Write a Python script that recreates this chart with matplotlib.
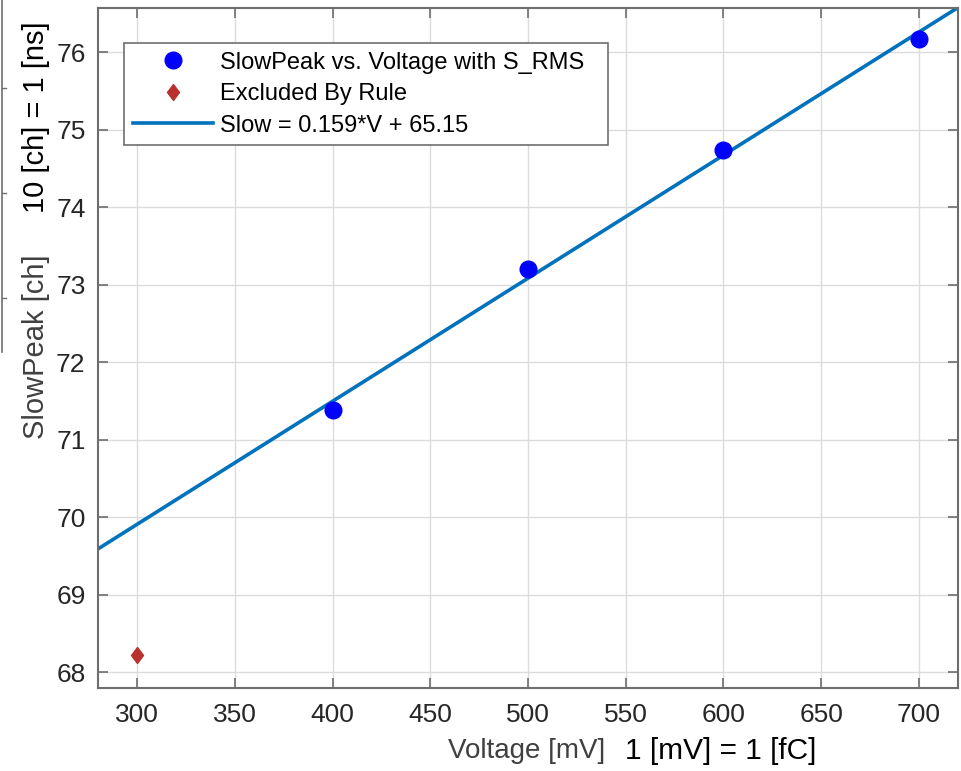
import matplotlib
matplotlib.use("Agg")
import matplotlib.pyplot as plt
from matplotlib.lines import Line2D
import numpy as np

plt.rcParams['font.family'] = ['Liberation Sans', 'DejaVu Sans']

voltage = [400, 500, 600, 700]
slow_peak = [71.39, 73.21, 74.74, 76.17]
excl_voltage = [300]
excl_peak = [68.22]
fit_slope = 0.01587
fit_intercept = 65.15
fit_label = "Slow = 0.159*V + 65.15"
xticks = list(range(300, 701, 50))
yticks = list(range(68, 77))

fig = plt.figure(figsize=(9.62, 7.71), dpi=100)
ax = fig.add_axes([98/962, (771-688)/771, (958-98)/962, (688-8)/771])

diamond = [(0, 1), (0.75, 0), (0, -1), (-0.75, 0), (0, 1)]

xl = (280, 720)
xs = np.array(xl)
ax.plot(voltage, slow_peak, 'o', color='#0000FF', markersize=12, label='SlowPeak vs. Voltage with S_RMS', zorder=3)
ax.plot(excl_voltage, excl_peak, marker=diamond, linestyle='none', color='#B8312F', markersize=11.5,
        label='Excluded By Rule', zorder=3)
ax.plot(xs, fit_slope*xs + fit_intercept, '-', color='#0072BD', linewidth=2.6, label=fit_label, zorder=2)

ax.set_xlim(*xl)
ax.set_ylim(67.8, 76.57)
ax.set_xticks(xticks)
ax.set_yticks(yticks)
ax.grid(True, color='#dcdcdc', linewidth=1)
ax.set_axisbelow(True)
for s in ax.spines.values():
    s.set_color('#6e6e6e')
    s.set_linewidth(1.5)
ax.tick_params(direction='in', length=7, width=1.2, colors='#6e6e6e', labelcolor='#262626',
               labelsize=19, top=True, right=True, pad=9)
ax.tick_params(axis='x', pad=11)

x0 = (124-98)/860
w = (608-124)/860
ytop = (688-43)/680
leg = ax.legend(loc='upper left', bbox_to_anchor=(x0, 0.5, w, ytop-0.5), mode='expand',
                fontsize=17, frameon=True, fancybox=False, edgecolor='#6e6e6e', framealpha=1,
                handlelength=3.4, borderpad=0.37, labelspacing=0.4, handletextpad=0.3, borderaxespad=0)
leg.get_frame().set_linewidth(1.2)

fig.text(448/962, 1-751/771, 'Voltage [mV]', fontsize=20, color='#404040', ha='left', va='center')
fig.text(625/962, 1-751/771, '1 [mV] = 1 [fC]', fontsize=21.5, color='black', ha='left', va='center')
fig.text(36/962, 1-347/771, 'SlowPeak [ch]', fontsize=21, color='#404040', rotation=90, ha='center', va='center')
fig.text(36/962, 1-117/771, '10 [ch] = 1 [ns]', fontsize=21, color='black', rotation=90, ha='center', va='center')

# cropped edge artifact at left
fig.add_artist(Line2D([2/962, 2/962], [1, 1-352/771], color='#707070', linewidth=1.2))
for yy in [88, 193, 298]:
    fig.add_artist(Line2D([2/962, 6/962], [1-yy/771, 1-yy/771], color='#707070', linewidth=1))

fig.savefig('out.png', dpi=100)
